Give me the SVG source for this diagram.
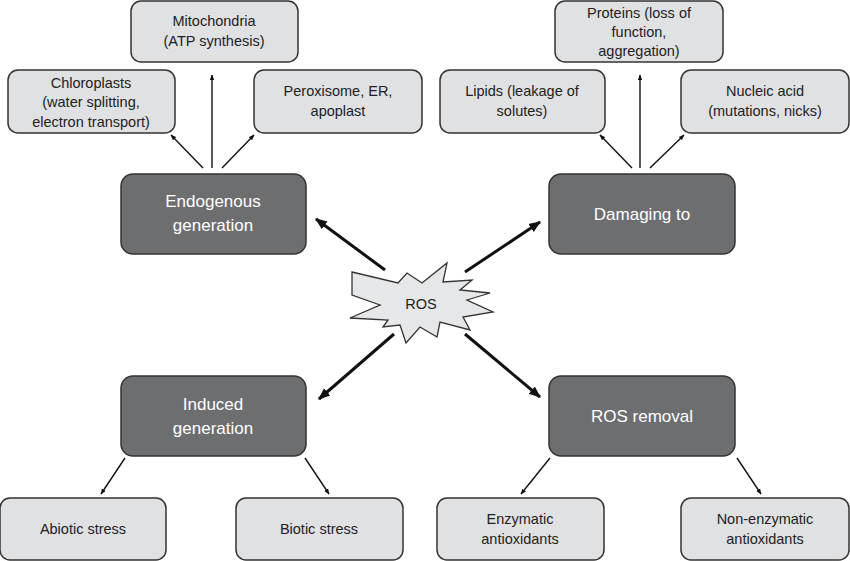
<svg xmlns="http://www.w3.org/2000/svg" width="850" height="561" viewBox="0 0 850 561">
<defs>
<marker id="a" viewBox="0 0 10 10" refX="9" refY="5" markerWidth="4" markerHeight="4" orient="auto" markerUnits="strokeWidth"><path d="M0,1 L10,5 L0,9 z" fill="#111"/></marker>
<marker id="b" viewBox="0 0 10 10" refX="9" refY="5" markerWidth="5" markerHeight="5" orient="auto" markerUnits="userSpaceOnUse"><path d="M0,1 L10,5 L0,9 z" fill="#111"/></marker>
<style>
.l{fill:#e0e1e2;stroke:#333;stroke-width:1.5}
.d{fill:#6d6e70;stroke:#333;stroke-width:1.5}
text{font-family:"Liberation Sans",Arial,sans-serif;text-anchor:middle}
.lt{font-size:14.5px;fill:#222}
.dt{font-size:17px;fill:#fff}
.s{stroke:#111;stroke-width:1.4;fill:none;marker-end:url(#a)}
.t{stroke:#111;stroke-width:3;fill:none;marker-end:url(#a)}
</style>
</defs>
<rect width="850" height="561" fill="#fff"/>
<g id="connectors">
<line class="s" x1="203" y1="168" x2="171" y2="135"/>
<line class="s" x1="212" y1="168" x2="212" y2="75"/>
<line class="s" x1="222" y1="168" x2="254" y2="135"/>
<line class="s" x1="632" y1="168" x2="600" y2="135"/>
<line class="s" x1="640" y1="168" x2="640" y2="75"/>
<line class="s" x1="650" y1="168" x2="684" y2="135"/>
<line class="s" x1="125" y1="458" x2="101" y2="494"/>
<line class="s" x1="305" y1="458" x2="329" y2="494"/>
<line class="s" x1="550" y1="458" x2="521" y2="494"/>
<line class="s" x1="737" y1="458" x2="761" y2="494"/>
<line class="t" x1="385" y1="270" x2="316" y2="219"/>
<line class="t" x1="465" y1="272" x2="540" y2="222"/>
<line class="t" x1="394" y1="334" x2="319" y2="399"/>
<line class="t" x1="465" y1="334" x2="540" y2="397"/>
</g>
<g id="ros"><polygon points="352,272 398,283 407,273 422,283 447,263 443,282 472,280 460,290 490,293 467,300 493,312 463,317 470,330 440,322 437,337 420,327 406,343 400,325 383,327 388,320 350,318 380,305 352,295" fill="#e6e7e8" stroke="#333" stroke-width="1.3"/><text class="lt" x="421" y="309" font-size="16">ROS</text></g>
<g id="mito"><rect class="l" x="131" y="1" width="167" height="61" rx="10"/><text class="lt" x="214" y="26">Mitochondria</text><text class="lt" x="214" y="46">(ATP synthesis)</text></g>
<g id="chloro"><rect class="l" x="8" y="70" width="167" height="63" rx="10"/><text class="lt" x="91" y="88">Chloroplasts</text><text class="lt" x="91" y="107">(water splitting,</text><text class="lt" x="91" y="127">electron transport)</text></g>
<g id="perox"><rect class="l" x="254" y="70" width="168" height="63" rx="10"/><text class="lt" x="338" y="96">Peroxisome, ER,</text><text class="lt" x="338" y="116">apoplast</text></g>
<g id="endo"><rect class="d" x="121" y="174" width="185" height="80" rx="12"/><text class="dt" x="213" y="207">Endogenous</text><text class="dt" x="213" y="231">generation</text></g>
<g id="prot"><rect class="l" x="555" y="1" width="168" height="61" rx="10"/><text class="lt" x="639" y="18">Proteins (loss of</text><text class="lt" x="639" y="37">function,</text><text class="lt" x="639" y="56">aggregation)</text></g>
<g id="lipid"><rect class="l" x="440" y="70" width="165" height="63" rx="10"/><text class="lt" x="522" y="96">Lipids (leakage of</text><text class="lt" x="522" y="116">solutes)</text></g>
<g id="nucl"><rect class="l" x="681" y="70" width="168" height="63" rx="10"/><text class="lt" x="765" y="96">Nucleic acid</text><text class="lt" x="765" y="116">(mutations, nicks)</text></g>
<g id="dam"><rect class="d" x="549" y="174" width="186" height="80" rx="12"/><text class="dt" x="642" y="220">Damaging to</text></g>
<g id="ind"><rect class="d" x="121" y="376" width="185" height="80" rx="12"/><text class="dt" x="213" y="410">Induced</text><text class="dt" x="213" y="434">generation</text></g>
<g id="rem"><rect class="d" x="549" y="376" width="186" height="80" rx="12"/><text class="dt" x="642" y="422">ROS removal</text></g>
<g id="abio"><rect class="l" x="0" y="498" width="166" height="62" rx="10"/><text class="lt" x="83" y="534">Abiotic stress</text></g>
<g id="bio"><rect class="l" x="236" y="498" width="167" height="62" rx="10"/><text class="lt" x="319" y="534">Biotic stress</text></g>
<g id="enz"><rect class="l" x="437" y="498" width="167" height="62" rx="10"/><text class="lt" x="520" y="524">Enzymatic</text><text class="lt" x="520" y="544">antioxidants</text></g>
<g id="nonenz"><rect class="l" x="681" y="498" width="168" height="62" rx="10"/><text class="lt" x="765" y="524">Non-enzymatic</text><text class="lt" x="765" y="544">antioxidants</text></g>
</svg>
